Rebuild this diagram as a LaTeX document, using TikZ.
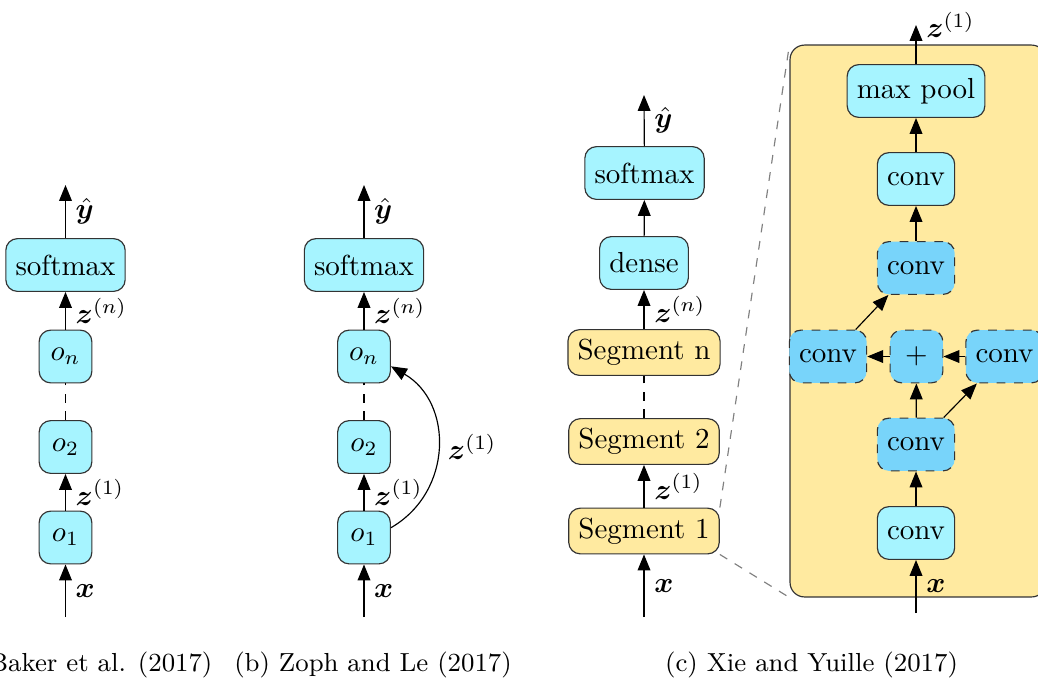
\documentclass[tikz,border=0pt]{standalone}
\usepackage{amsmath, bm}
\usetikzlibrary{arrows.meta}

\definecolor{cellcyan}{RGB}{166,244,255}
\definecolor{cellblue}{RGB}{120,212,250}
\definecolor{segyellow}{RGB}{255,234,160}

\tikzset{
	layer/.style={draw=black!80, fill=cellcyan, rounded corners=4pt, minimum width=18.2pt, minimum height=18.2pt},
	opcell/.style={layer, fill=cellblue, dashed},
	segbox/.style={draw=black!80, fill=segyellow, rounded corners=4pt},
	flow/.style={-{Triangle[length=5.5pt,width=4.4pt]}},
	caption/.style={font=\small, inner sep=0pt}
}

\begin{document}
\begin{tikzpicture}[x=0.345pt, y=0.345pt]

	\useasboundingbox (0,-681) rectangle (1038,0);
	\clip (0,-681) rectangle (1038,0);

	% (a) Baker et al.
	\node[layer] (sma) at (65.5,-265) {softmax};
	\node[layer] (ona) at (65.5,-356.5) {$o_n$};
	\node[layer] (o2a) at (65.5,-447) {$o_2$};
	\node[layer] (o1a) at (65.5,-537.5) {$o_1$};
	\coordinate (ina) at (65.5,-617);
	\coordinate (outa) at (65.5,-185);

	\draw[flow] (ina) -- node[right]{$\bm{x}$} (o1a);
	\draw[flow] (o1a) -- node[right]{$\bm{z}^{(1)}$} (o2a);
	\draw[dashed] (o2a) -- (ona);
	\draw[flow] (ona) -- node[right]{$\bm{z}^{(n)}$} (sma);
	\draw[flow] (sma) -- node[right]{$\hat{\bm{y}}$} (outa);

	% (b) Zoph and Le
	\node[layer] (smb) at (364,-265) {softmax};
	\node[layer] (onb) at (364,-356.5) {$o_n$};
	\node[layer] (o2b) at (364,-447) {$o_2$};
	\node[layer] (o1b) at (364,-537.5) {$o_1$};
	\coordinate (inb) at (364,-617);
	\coordinate (outb) at (364,-185);

	\draw[flow] (inb) -- node[right]{$\bm{x}$} (o1b);
	\draw[flow] (o1b) -- node[right]{$\bm{z}^{(1)}$} (o2b);
	\draw[dashed] (o2b) -- (onb);
	\draw[flow] (onb) -- node[right]{$\bm{z}^{(n)}$} (smb);
	\draw[flow] (smb) -- node[right]{$\hat{\bm{y}}$} (outb);
	\draw[flow] (o1b.20) .. controls +(30:72) and +(-30:72) .. node[right]{$\bm{z}^{(1)}$} (onb.-20);

	% (c) Xie and Yuille
	\node[layer] (smc) at (644.5,-173) {softmax};
	\node[layer] (dnc) at (644,-263) {dense};
	\node[segbox] (snc) at (644,-352.5) {Segment n};
	\node[segbox] (s2c) at (644,-441.5) {Segment 2};
	\node[segbox] (s1c) at (644,-531) {Segment 1};
	\coordinate (inc) at (644,-617);
	\coordinate (outc) at (644,-95);

	\draw[flow] (inc) -- node[right]{$\bm{x}$} (s1c);
	\draw[flow] (s1c) -- node[right]{$\bm{z}^{(1)}$} (s2c);
	\draw[dashed] (s2c) -- (snc);
	\draw[flow] (snc) -- node[right]{$\bm{z}^{(n)}$} (dnc);
	\draw[flow] (dnc) -- (smc);
	\draw[flow] (smc) -- node[right]{$\hat{\bm{y}}$} (outc);

	% inside of a segment
	\node[segbox, rounded corners=5pt, minimum width=88.3pt, minimum height=190.4pt, inner sep=0pt] (seg) at (918,-321) {};
	\draw[gray, dashed] (s1c.north east) -- (seg.north west);
	\draw[gray, dashed] (s1c.south east) -- (seg.south west);

	\node[layer] (mp) at (916,-91) {max pool};
	\node[layer] (cv3) at (916,-179) {conv};
	\node[opcell] (dc2) at (916,-268) {conv};
	\node[opcell] (cl) at (828,-356.5) {conv};
	\node[opcell] (pl) at (916.5,-356.5) {$+$};
	\node[opcell] (cr) at (1004.5,-356.5) {conv};
	\node[opcell] (dc1) at (916,-444.5) {conv};
	\node[layer] (cv1) at (916,-533) {conv};
	\coordinate (inp) at (916,-613);
	\coordinate (outp) at (916,-25);

	\draw[flow] (inp) -- node[right]{$\bm{x}$} (cv1);
	\draw[flow] (cv1) -- (dc1);
	\draw[flow] (dc1) -- (pl);
	\draw[flow] (pl) -- (cl);
	\draw[flow] (cr) -- (pl);
	\draw[flow] ([xshift=-4pt]dc1.north east) -- ([xshift=4pt]cr.south west);
	\draw[flow] ([xshift=-4pt]cl.north east) -- ([xshift=4pt]dc2.south west);
	\draw[flow] (dc2) -- (cv3);
	\draw[flow] (cv3) -- (mp);
	\draw[flow] (mp) -- (outp) node[right]{$\bm{z}^{(1)}$};

	% captions
	\node[caption, anchor=east] (capa) at (213,-665) {(a) Baker et al. (2017)};
	\node[caption] (capb) at (373,-665) {(b) Zoph and Le (2017)};
	\node[caption] (capc) at (811.5,-665) {(c) Xie and Yuille (2017)};

\end{tikzpicture}
\end{document}
